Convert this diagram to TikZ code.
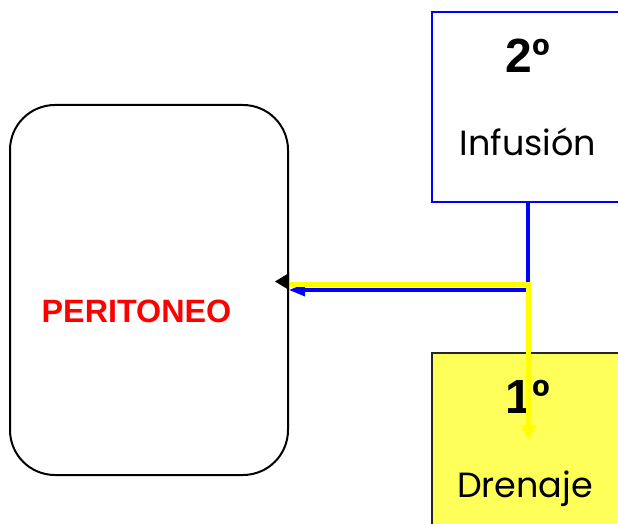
\documentclass[tikz,border=0pt]{standalone}
\usepackage{fontspec}
\setmainfont{Liberation Sans}
\newfontfamily\geofont{Poppins}
\usetikzlibrary{arrows.meta}
\definecolor{drainfill}{HTML}{FFFF5A}
\definecolor{pureblue}{HTML}{0000FF}
\definecolor{pureyellow}{HTML}{FFFF00}
\tikzset{
  cavity/.style={draw=black, line width=2pt, rounded corners=45pt, fill=white},
  infbox/.style={draw=pureblue, line width=2pt, fill=white},
  drainbox/.style={draw=black!85, line width=1.6pt, fill=drainfill},
  stepnum/.style={anchor=base, font=\bfseries\fontsize{48}{48}\selectfont},
  steplabel/.style={anchor=base, font=\geofont\fontsize{35}{35}\selectfont},
  inflow/.style={draw=pureblue, line width=3.2pt, -{Triangle[length=16pt,width=12pt]}},
  outflow/.style={draw=pureyellow, line width=5pt, -{Triangle[length=15pt,width=15pt]}},
}
\begin{document}
\begin{tikzpicture}[x=1pt,y=-1pt]
  \clip (0,0) rectangle (618,524);
  \fill[white] (0,0) rectangle (618,524);

  % peritoneal cavity
  \node[cavity, minimum width=278pt, minimum height=370pt] (peritoneo) at (149,290) {};
  \node[anchor=base, text=red, font=\bfseries\fontsize{32.3}{32.3}\selectfont] (perlabel) at (136.5,322) {PERITONEO};

  % infusion bag
  \node[infbox, minimum width=192pt, minimum height=190pt] (infusion) at (528,107) {};
  \node[stepnum] (num2) at (528,73) {2º};
  \node[steplabel] (inflabel) at (528,155) {Infusión};

  % drainage bag
  \node[drainbox, minimum width=192pt, minimum height=200pt] (drenaje) at (528,453) {};
  \node[stepnum] (num1) at (528,413) {1º};
  \node[steplabel] (drelabel) at (525,497) {Drenaje};

  % flow lines
  \coordinate (droptip) at (528.5,440);
  \draw[inflow] (infusion.south) |- (peritoneo.east);
  \draw[outflow] ([yshift=5.5pt]peritoneo.east) -| (droptip);
  \fill[black] (peritoneo.east) ++(0,-17) -- ++(0,17) -- ++(-14,-8.5) -- cycle;
\end{tikzpicture}
\end{document}
